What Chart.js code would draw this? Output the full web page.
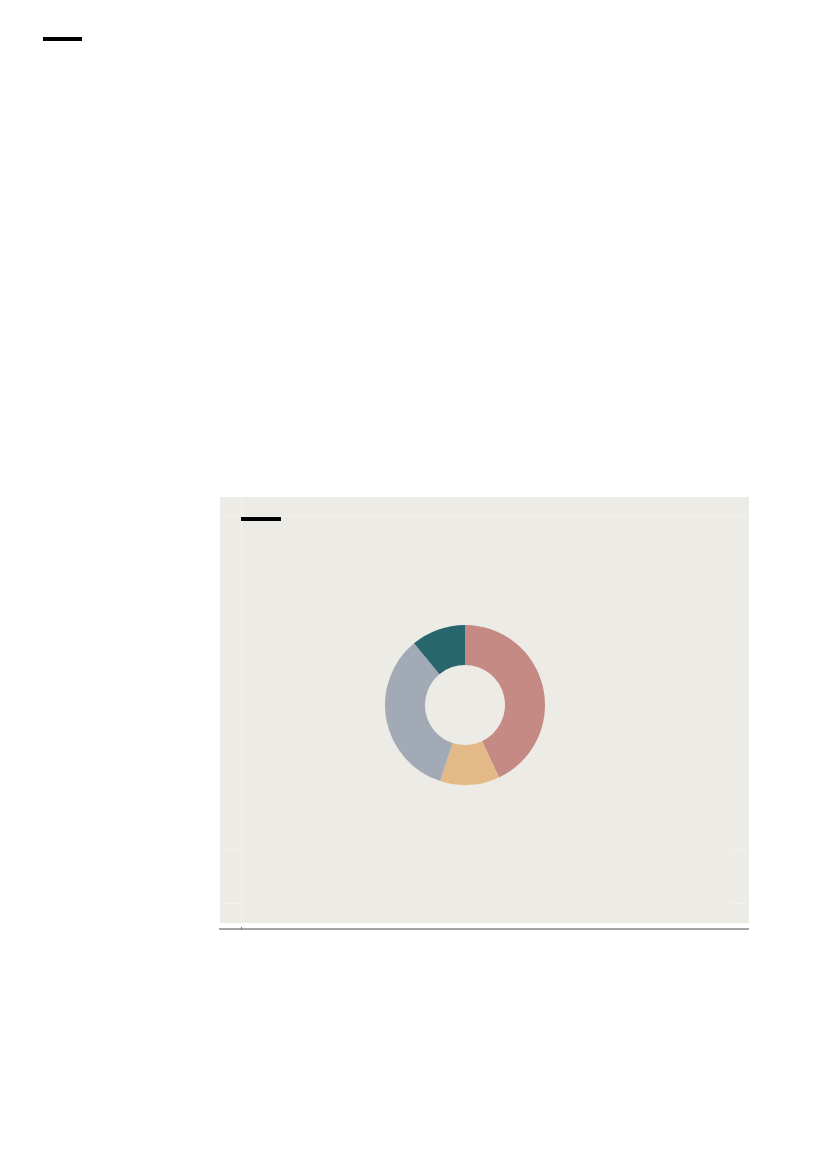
<!DOCTYPE html>
<html>
<head>
<meta charset="utf-8">
<script src="https://cdn.jsdelivr.net/npm/chart.js@4"></script>
<style>
  html, body { margin: 0; padding: 0; background: #ffffff; width: 827px; height: 1169px; overflow: hidden; font-family: "Liberation Sans", Arial, sans-serif; }
  .abs { position: absolute; }
  #topbar { left: 43px; top: 37px; width: 39px; height: 4px; background: #000; }
  #panel { left: 220px; top: 497px; width: 529px; height: 426px; background: #EDEBE6; }
  #panelbar { left: 241px; top: 517px; width: 40px; height: 4px; background: #000; }
  .faint { background: #F2F1ED; }
  #baseline { left: 219px; top: 928px; width: 530px; height: 2px; background: #A5A5A5; }
  #basetick { left: 241px; top: 927px; width: 1px; height: 3px; background: #777; }
  #chartbox { left: 385px; top: 625px; width: 160px; height: 160px; }
</style>
</head>
<body>
<div id="topbar" class="abs"></div>
<div id="panel" class="abs"></div>
<div class="abs faint" style="left:241px;top:497px;width:1px;height:426px;"></div>
<div class="abs faint" style="left:220px;top:516px;width:529px;height:1px;"></div>
<div class="abs faint" style="left:220px;top:849px;width:21px;height:1px;"></div>
<div class="abs faint" style="left:220px;top:903px;width:21px;height:1px;"></div>
<div class="abs faint" style="left:730px;top:849px;width:19px;height:1px;"></div>
<div class="abs faint" style="left:730px;top:903px;width:19px;height:1px;"></div>
<div id="panelbar" class="abs"></div>
<div id="baseline" class="abs"></div>
<div id="basetick" class="abs"></div>
<div id="chartbox" class="abs"><canvas id="c"></canvas></div>
<script>
const categories = ["A", "B", "C", "D"];
const values = [43, 12, 34, 11];
const colors = ["#C48A83", "#E2B987", "#A2AAB5", "#28666E"];

new Chart(document.getElementById("c"), {
  type: "doughnut",
  data: {
    labels: categories,
    datasets: [{
      data: values,
      backgroundColor: colors,
      borderWidth: 0,
      hoverOffset: 0
    }]
  },
  options: {
    responsive: true,
    maintainAspectRatio: false,
    animation: false,
    cutout: "50%",
    layout: { padding: 0 },
    plugins: {
      legend: { display: false },
      tooltip: { enabled: false },
      title: { display: false }
    }
  }
});
</script>
</body>
</html>
